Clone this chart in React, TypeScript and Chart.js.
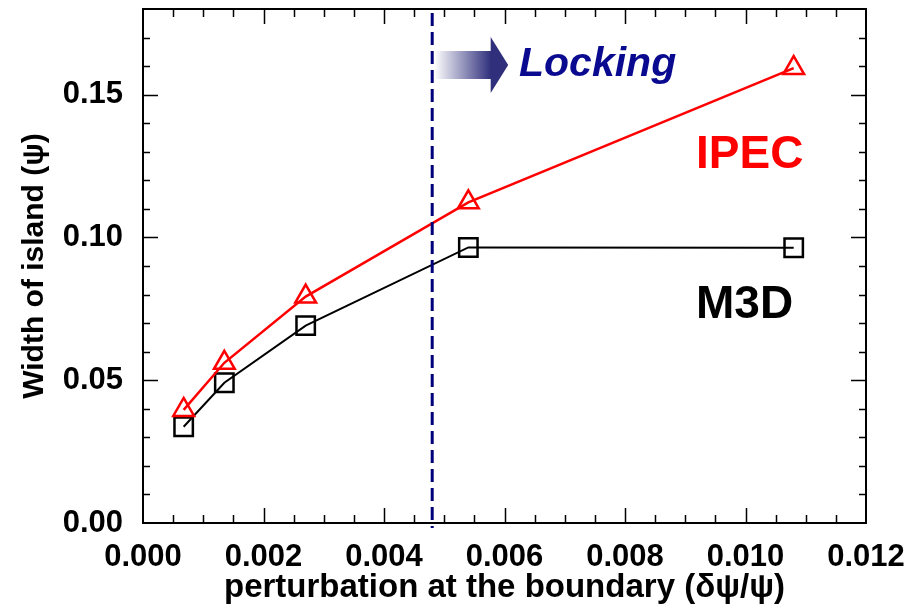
import React, { useEffect, useRef } from 'react';
import { Chart, registerables } from 'chart.js';

Chart.register(...registerables);

// ---- data ----
const perturbation = [0.000675, 0.00135, 0.0027, 0.0054, 0.0108];
const ipecWidth = [0.0396, 0.0561, 0.0793, 0.1123, 0.1593];
const m3dWidth = [0.0337, 0.0491, 0.0691, 0.0965, 0.0964];
const lockingThreshold = 0.0048;

const xMin = 0;
const xMax = 0.012;
const xMajorStep = 0.002;
const xMinorStep = 0.0005;
const yMin = 0;
const yMax = 0.18;
const yMajorStep = 0.05;
const yMinorStep = 0.01;

const xTitle = 'perturbation at the boundary (\u03b4\u03c8/\u03c8)';
const yTitle = 'Width of island (\u03c8)';
const ipecLabel = 'IPEC';
const m3dLabel = 'M3D';
const lockingLabel = 'Locking';

const FONT = '"Liberation Sans", Arial, Helvetica, sans-serif';

const framePlugin = {
  id: 'framePlugin',
  afterDatasetsDraw(chart: any) {
    const { ctx, chartArea, scales } = chart;
    const { left, right, top, bottom } = chartArea;
    const x = scales.x;
    const y = scales.y;
    ctx.save();

    // dashed locking line
    const lx = x.getPixelForValue(lockingThreshold);
    ctx.strokeStyle = '#00007a';
    ctx.lineWidth = 3;
    ctx.setLineDash([13, 6]);
    ctx.beginPath();
    ctx.moveTo(lx, top + 4);
    ctx.lineTo(lx, bottom + 5);
    ctx.stroke();
    ctx.setLineDash([]);

    // frame
    ctx.strokeStyle = '#000';
    ctx.lineWidth = 2;
    ctx.strokeRect(left, top, right - left, bottom - top);

    // x ticks (bottom + top), inward
    ctx.lineWidth = 1.5;
    const nx = Math.round((xMax - xMin) / xMinorStep);
    const perMajorX = Math.round(xMajorStep / xMinorStep);
    for (let i = 1; i < nx; i++) {
      const v = xMin + i * xMinorStep;
      const px = Math.round(x.getPixelForValue(v)) + 0.5;
      const len = i % perMajorX === 0 ? 15 : 8;
      ctx.beginPath();
      ctx.moveTo(px, bottom);
      ctx.lineTo(px, bottom - len);
      ctx.moveTo(px, top);
      ctx.lineTo(px, top + len);
      ctx.stroke();
    }
    // y ticks (left + right), inward
    const ny = Math.round((yMax - yMin) / yMinorStep);
    const perMajorY = Math.round(yMajorStep / yMinorStep);
    for (let i = 1; i < ny; i++) {
      const v = yMin + i * yMinorStep;
      const py = Math.round(y.getPixelForValue(v)) + 0.5;
      const len = i % perMajorY === 0 ? 15 : 7;
      ctx.beginPath();
      ctx.moveTo(left, py);
      ctx.lineTo(left + len, py);
      ctx.moveTo(right, py);
      ctx.lineTo(right - len, py);
      ctx.stroke();
    }

    // arrow with gradient
    const ax0 = lx + 2;
    const ax1 = lx + 59;
    const tip = lx + 76;
    const ay = 65;
    const grad = ctx.createLinearGradient(ax0, 0, ax1, 0);
    grad.addColorStop(0, 'rgba(255,255,255,1)');
    grad.addColorStop(1, '#2f2f7c');
    ctx.fillStyle = grad;
    ctx.fillRect(ax0, ay - 14, ax1 - ax0, 28);
    ctx.fillStyle = '#2f2f7c';
    ctx.beginPath();
    ctx.moveTo(ax1 - 0.5, ay - 28);
    ctx.lineTo(tip, ay);
    ctx.lineTo(ax1 - 0.5, ay + 28);
    ctx.closePath();
    ctx.fill();

    // texts
    ctx.textBaseline = 'alphabetic';
    ctx.textAlign = 'left';
    ctx.fillStyle = '#0a0a90';
    ctx.font = `italic bold 41px ${FONT}`;
    ctx.fillText(lockingLabel, 519, 76);

    ctx.font = `bold 46px ${FONT}`;
    ctx.fillStyle = '#ff0000';
    ctx.fillText(ipecLabel, 696, 168);
    ctx.fillStyle = '#000000';
    ctx.fillText(m3dLabel, 696, 318);

    ctx.restore();
  },
};

export default function App() {
  const canvasRef = useRef<HTMLCanvasElement | null>(null);

  useEffect(() => {
    const canvas = canvasRef.current;
    if (!canvas) return;
    const chart = new Chart(canvas, {
      type: 'scatter',
      data: {
        datasets: [
          {
            label: ipecLabel,
            data: perturbation.map((px, i) => ({ x: px, y: ipecWidth[i] })),
            showLine: true,
            borderColor: '#ff0000',
            borderWidth: 2.5,
            pointStyle: 'triangle',
            pointRadius: 12,
            pointHoverRadius: 12,
            pointBorderWidth: 2.5,
            pointBorderColor: '#ff0000',
            pointBackgroundColor: 'rgba(0,0,0,0)',
          },
          {
            label: m3dLabel,
            data: perturbation.map((px, i) => ({ x: px, y: m3dWidth[i] })),
            showLine: true,
            borderColor: '#000000',
            borderWidth: 2,
            pointStyle: 'rect',
            pointRadius: 13,
            pointHoverRadius: 13,
            pointBorderWidth: 2.5,
            pointBorderColor: '#000000',
            pointBackgroundColor: 'rgba(0,0,0,0)',
          },
        ],
      },
      options: {
        responsive: false,
        animation: false,
        layout: { autoPadding: false, padding: { left: 0, right: 48, top: 9, bottom: 0 } },
        plugins: {
          legend: { display: false },
          tooltip: { enabled: false },
        },
        scales: {
          x: {
            type: 'linear',
            min: xMin,
            max: xMax,
            grid: { display: false },
            border: { display: false },
            ticks: {
              stepSize: xMajorStep,
              includeBounds: false,
              color: '#000',
              padding: 8,
              maxRotation: 0,
              font: { family: FONT, size: 31, weight: 'bold' },
              callback: (v: any) => Number(v).toFixed(3),
            },
            title: {
              display: true,
              text: xTitle,
              color: '#000',
              font: { family: FONT, size: 33, weight: 'bold' },
              padding: { top: 2, bottom: 2 },
            },
            afterFit: (s: any) => {
              s.height = 87;
              s.paddingLeft = 0;
              s.paddingRight = 0;
            },
          },
          y: {
            type: 'linear',
            min: yMin,
            max: yMax,
            grid: { display: false },
            border: { display: false },
            ticks: {
              stepSize: yMajorStep,
              includeBounds: false,
              color: '#000',
              padding: 12,
              font: { family: FONT, size: 31, weight: 'bold' },
              callback: (v: any) => Number(v).toFixed(2),
            },
            title: {
              display: true,
              text: yTitle,
              color: '#000',
              font: { family: FONT, size: 30, weight: 'bold' },
              padding: { top: 17, bottom: 17 },
            },
            afterFit: (s: any) => {
              s.width = 143;
              s.paddingTop = 0;
              s.paddingBottom = 0;
            },
          },
        },
      },
      plugins: [framePlugin],
    } as any);
    return () => chart.destroy();
  }, []);

  return (
    <div style={{ position: 'fixed', left: 0, top: 0, width: 914, height: 610, background: '#fff' }}>
      <canvas ref={canvasRef} width={914} height={610} style={{ display: 'block' }} />
    </div>
  );
}
